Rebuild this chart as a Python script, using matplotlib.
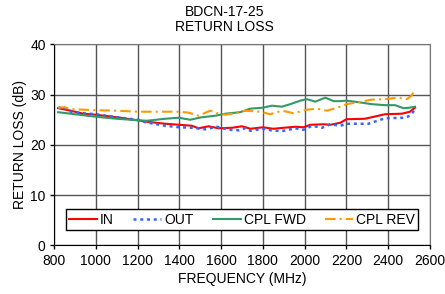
import matplotlib
matplotlib.use('Agg')
import matplotlib.pyplot as plt

plt.rcParams['font.family'] = ['Liberation Sans', 'DejaVu Sans']

# values (MHz, dB)
in_freq = [820, 880, 940, 1000, 1100, 1200, 1245, 1333, 1400, 1460, 1492, 1540, 1588,
           1652, 1700, 1740, 1800, 1850, 1899, 1955, 1995, 2027, 2091, 2123, 2171, 2200,
           2289, 2385, 2465, 2504, 2528]
in_rl = [27.3, 26.8, 26.2, 26.0, 25.5, 24.9, 24.6, 24.2, 24.0, 23.8, 23.3, 23.7, 23.3,
         23.4, 23.7, 23.2, 23.5, 23.2, 23.4, 23.6, 23.5, 24.0, 24.1, 24.0, 24.4, 25.1,
         25.2, 26.1, 26.2, 26.6, 27.4]

out_freq = [820, 840, 880, 940, 1000, 1050, 1100, 1200, 1238, 1333, 1400, 1460, 1524,
            1580, 1636, 1683, 1715, 1740, 1800, 1850, 1899, 1955, 1995, 2035, 2083, 2123,
            2171, 2200, 2305, 2385, 2480, 2504, 2528]
out_rl = [27.3, 27.7, 26.6, 26.3, 26.1, 25.8, 25.5, 25.0, 24.5, 23.8, 23.5, 23.4, 23.1,
          23.6, 23.0, 22.9, 23.3, 22.8, 23.2, 22.8, 22.8, 23.3, 23.0, 23.8, 23.4, 24.1,
          23.8, 24.2, 24.2, 25.3, 25.4, 25.8, 27.0]

fwd_freq = [820, 880, 1000, 1100, 1200, 1245, 1333, 1397, 1452, 1508, 1572, 1620, 1691,
            1739, 1800, 1843, 1891, 1931, 1979, 2011, 2051, 2099, 2139, 2171, 2200, 2257,
            2321, 2385, 2433, 2473, 2504, 2528]
fwd_rl = [26.5, 26.2, 25.6, 25.2, 24.9, 24.8, 25.2, 25.4, 25.0, 25.5, 25.8, 26.2, 26.5,
          27.2, 27.4, 27.8, 27.6, 28.1, 28.8, 29.1, 28.6, 29.4, 28.7, 28.7, 28.8, 28.5,
          28.1, 27.9, 27.9, 27.3, 27.4, 27.6]

rev_freq = [820, 850, 880, 943, 1000, 1100, 1200, 1300, 1397, 1445, 1492, 1548, 1580,
            1620, 1667, 1715, 1787, 1835, 1891, 1947, 2011, 2059, 2107, 2171, 2200, 2257,
            2321, 2385, 2449, 2489, 2512, 2524]
rev_rl = [27.4, 27.5, 27.1, 27.0, 26.9, 26.8, 26.6, 26.6, 26.6, 26.4, 25.8, 26.8, 26.3,
          26.0, 26.3, 26.8, 26.6, 26.1, 26.8, 26.3, 27.0, 27.2, 26.8, 27.6, 28.1, 28.5,
          29.0, 29.1, 29.4, 29.1, 29.8, 30.7]

fs = 10

fig = plt.figure(figsize=(4.45, 2.94), dpi=100)
ax = fig.add_axes([0.1213, 0.1656, 0.845, 0.6834])

ax.plot(in_freq, in_rl, color='#FF0000', lw=1.5, label='IN')
ax.plot(out_freq, out_rl, color='#3366FF', lw=1.8, ls=(0, (1.2, 1.5)), label='OUT')
ax.plot(fwd_freq, fwd_rl, color='#339966', lw=1.5, label='CPL FWD')
ax.plot(rev_freq, rev_rl, color='#FF9900', lw=1.5, ls=(0, (5, 2, 1, 2)), label='CPL REV')

ax.set_xlim(800, 2600)
ax.set_ylim(0, 40)
ax.set_xticks(range(800, 2601, 200))
ax.set_yticks(range(0, 41, 10))
ax.grid(True, color='#555555', lw=1)
ax.set_axisbelow(True)
ax.tick_params(labelsize=fs, length=3, width=1, color='black', pad=3)
for side in ['top', 'right']:
    ax.spines[side].set_color('#777777')
for side in ['left', 'bottom']:
    ax.spines[side].set_color('black')

ax.set_xlabel('FREQUENCY (MHz)', fontsize=fs, labelpad=3)
ax.set_ylabel('RETURN LOSS (dB)', fontsize=fs, labelpad=2)
fig.text(0.505, 0.935, 'BDCN-17-25\nRETURN LOSS', ha='center', va='center',
         fontsize=fs, linespacing=1.1)

leg = ax.legend(loc='lower left', bbox_to_anchor=(0.032, 0.076, 0.936, 0.124),
                mode='expand', ncol=4, fontsize=fs, frameon=True, fancybox=False,
                edgecolor='black', framealpha=1, handlelength=2.0, handletextpad=0.2,
                borderpad=0.25, borderaxespad=0)
leg.get_frame().set_linewidth(1)

fig.savefig('out.png', dpi=100)
